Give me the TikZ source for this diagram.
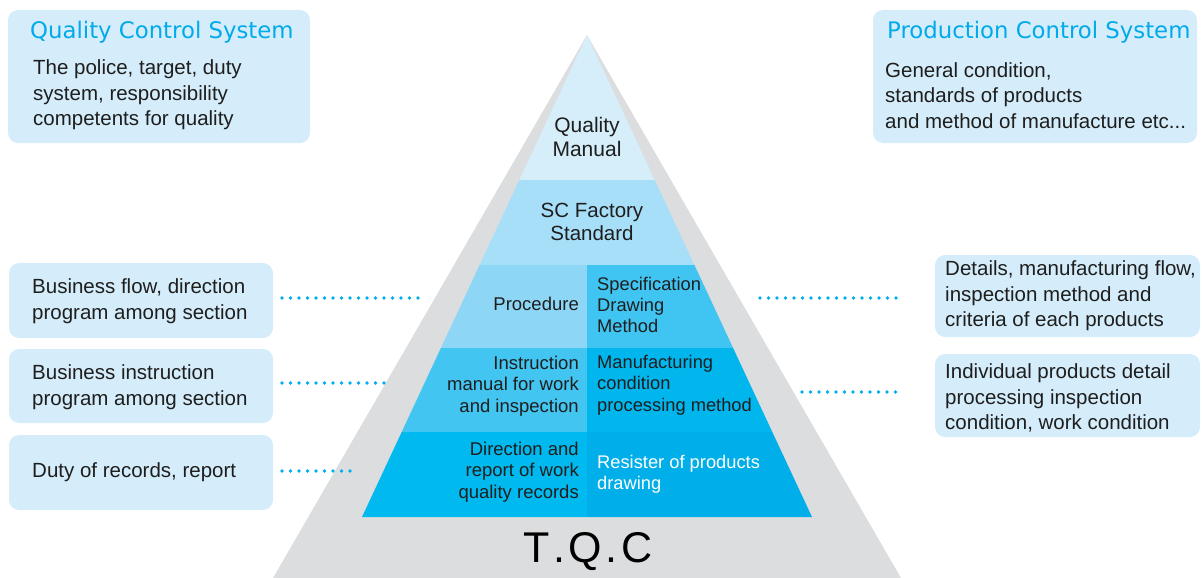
\documentclass[tikz,border=0pt]{standalone}
\usepackage{fontspec}
\setmainfont{Liberation Sans}
\newfontfamily\titlefont{DejaVu Sans}
\definecolor{boxbg}{RGB}{213,237,250}
\definecolor{titlecyan}{RGB}{0,170,235}
\definecolor{dotcyan}{RGB}{0,174,239}
\definecolor{pgray}{RGB}{220,221,222}
\definecolor{lay1}{RGB}{213,238,250}
\definecolor{lay2}{RGB}{168,223,248}
\definecolor{lay3l}{RGB}{142,214,246}
\definecolor{lay3r}{RGB}{64,196,241}
\definecolor{lay4l}{RGB}{66,197,241}
\definecolor{lay4r}{RGB}{0,182,237}
\definecolor{lay5l}{RGB}{0,185,239}
\definecolor{lay5r}{RGB}{0,174,234}
\definecolor{txt}{RGB}{30,30,30}
\begin{document}
\begin{tikzpicture}[x=1pt,y=-1pt,
  infobox/.style={fill=boxbg,rounded corners=10pt,draw=none},
  boxtext/.style={anchor=west,align=left,inner sep=0pt,text=txt,font=\fontsize{20.5}{25.5}\selectfont},
  boxtitle/.style={anchor=west,inner sep=0pt,text=titlecyan,font=\titlefont\fontsize{22.8}{26}\selectfont},
  pyrL/.style={anchor=east,align=right,inner sep=0pt,text=txt,font=\fontsize{18.5}{21.5}\selectfont},
  pyrR/.style={anchor=west,align=left,inner sep=0pt,text=txt,font=\fontsize{18.3}{21.3}\selectfont},
  pyrC/.style={anchor=center,align=center,inner sep=0pt,text=txt,font=\fontsize{21}{24}\selectfont},
  dotline/.style={dotcyan,line width=3.8pt,line cap=round,dash pattern=on 0pt off 8.5pt}]
\useasboundingbox (0,0) rectangle (1202,578);
% pyramid
\fill[pgray] (587,35) -- (273,578) -- (901,578) -- cycle;
\fill[lay1] (587,35) -- (519.3,180) -- (654.7,180) -- cycle;
\fill[lay2] (519.3,180) -- (479.6,265) -- (694.4,265) -- (654.7,180) -- cycle;
\fill[lay3l] (479.6,265) -- (440.9,348) -- (587,348) -- (587,265) -- cycle;
\fill[lay3r] (587,265) -- (587,348) -- (733.1,348) -- (694.4,265) -- cycle;
\fill[lay4l] (440.9,348) -- (401.7,432) -- (587,432) -- (587,348) -- cycle;
\fill[lay4r] (587,348) -- (587,432) -- (772.3,432) -- (733.1,348) -- cycle;
\fill[lay5l] (401.7,432) -- (362,517) -- (587,517) -- (587,432) -- cycle;
\fill[lay5r] (587,432) -- (587,517) -- (812,517) -- (772.3,432) -- cycle;
% pyramid texts
\node[pyrC] (qm) at (587,136.5) {Quality\\Manual};
\node[pyrC,font=\fontsize{20.5}{23}\selectfont] (scf) at (592,221.5) {SC Factory\\Standard};
\node[pyrL] (proc) at (579,304) {Procedure};
\node[pyrR] (spec) at (597,305) {Specification\\Drawing\\Method};
\node[pyrL] (instr) at (579,386) {Instruction\\manual for work\\and inspection};
\node[pyrR] (manu) at (597,385) {Manufacturing\\condition\\processing method};
\node[pyrL] (dir) at (579,472) {Direction and\\report of work\\quality records};
\node[pyrR,text=white] (res) at (597,474) {Resister of products\\drawing};
\node[inner sep=0pt,text=black,font=\fontsize{43}{46}\selectfont] (tqc) at (588,552) {T\kern3.5pt.\kern3.5pt Q\kern3.5pt.\kern3.5pt C};
% top boxes
\node[infobox,minimum width=302pt,minimum height=133pt,inner sep=0pt] (qcs) at (159,76.5) {};
\node[boxtitle] (qcst) at (30,32) {Quality Control System};
\node[boxtext] (qcsb) at (33,95) {The police, target, duty\\system, responsibility\\competents for quality};
\node[infobox,minimum width=324pt,minimum height=133pt,inner sep=0pt] (pcs) at (1035,76.5) {};
\node[boxtitle] (pcst) at (887,32) {Production Control System};
\node[boxtext] (pcsb) at (885,95.5) {General condition,\\standards of products\\and method of manufacture etc...};
% left boxes
\node[infobox,minimum width=264pt,minimum height=75pt,inner sep=0pt] (l1) at (141,300.5) {};
\node[boxtext] (l1t) at (32,301) {Business flow, direction\\program among section};
\node[infobox,minimum width=264pt,minimum height=74pt,inner sep=0pt] (l2) at (141,386) {};
\node[boxtext] (l2t) at (32,387) {Business instruction\\program among section};
\node[infobox,minimum width=264pt,minimum height=75pt,inner sep=0pt] (l3) at (141,472.5) {};
\node[boxtext] (l3t) at (32,472) {Duty of records, report};
% right boxes
\node[infobox,minimum width=265pt,minimum height=82pt,inner sep=0pt] (r1) at (1067.5,296) {};
\node[boxtext] (r1t) at (945,296) {Details, manufacturing flow,\\inspection method and\\criteria of each products};
\node[infobox,minimum width=265pt,minimum height=83pt,inner sep=0pt] (r2) at (1067.5,395.5) {};
\node[boxtext] (r2t) at (945,398) {Individual products detail\\processing inspection\\condition, work condition};
% dotted connectors
\coordinate (d1a) at (282,298); \coordinate (d1b) at (418,298);
\coordinate (d2a) at (282,383); \coordinate (d2b) at (384,383);
\coordinate (d3a) at (282,471); \coordinate (d3b) at (350,471);
\coordinate (d4a) at (760,298); \coordinate (d4b) at (903,298);
\coordinate (d5a) at (802,392); \coordinate (d5b) at (903,392);
\draw[dotline] (d1a) -- (d1b);
\draw[dotline] (d2a) -- (d2b);
\draw[dotline] (d3a) -- (d3b);
\draw[dotline] (d4a) -- (d4b);
\draw[dotline] (d5a) -- (d5b);
\end{tikzpicture}
\end{document}
